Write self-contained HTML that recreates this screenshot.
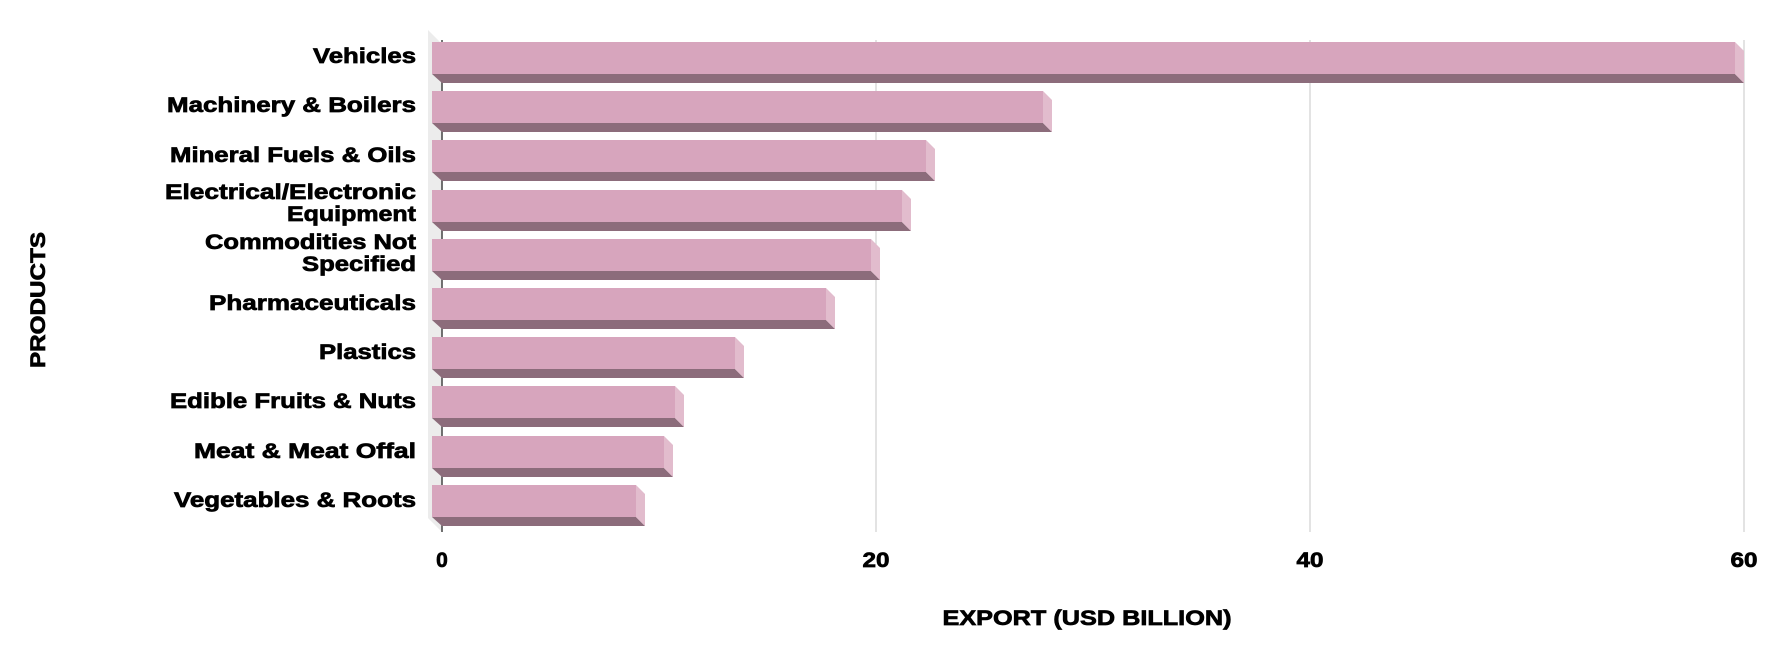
<!DOCTYPE html>
<html><head><meta charset="utf-8"><style>body{margin:0;background:#fff}svg{display:block}text{font-family:"Liberation Sans",Arial,sans-serif;font-weight:bold;fill:#000;stroke:#000;stroke-width:0.7}</style></head>
<body>
<svg width="1775" height="650" xmlns="http://www.w3.org/2000/svg">
<polygon points="428,30 442,44 442,532 428,518" fill="#ececec"/>
<line x1="442" y1="40" x2="442" y2="532" stroke="#444" stroke-width="1.5"/>
<line x1="876" y1="40" x2="876" y2="532" stroke="#d0d0d0" stroke-width="1.2"/>
<line x1="1310" y1="40" x2="1310" y2="532" stroke="#d0d0d0" stroke-width="1.2"/>
<line x1="1744" y1="40" x2="1744" y2="532" stroke="#d0d0d0" stroke-width="1.2"/>

<g transform="translate(0,42)"><rect x="432" y="0" width="1303" height="32" fill="#d7a5bd"/><polygon points="432,32 1735,32 1744,41 442,41" fill="#8c6c7b"/><polygon points="1735,0 1744,9 1744,41 1735,32" fill="#e2bccd"/></g>
<g transform="translate(0,91)"><rect x="432" y="0" width="611" height="32" fill="#d7a5bd"/><polygon points="432,32 1043,32 1052,41 442,41" fill="#8c6c7b"/><polygon points="1043,0 1052,9 1052,41 1043,32" fill="#e2bccd"/></g>
<g transform="translate(0,140)"><rect x="432" y="0" width="494" height="32" fill="#d7a5bd"/><polygon points="432,32 926,32 935,41 442,41" fill="#8c6c7b"/><polygon points="926,0 935,9 935,41 926,32" fill="#e2bccd"/></g>
<g transform="translate(0,190)"><rect x="432" y="0" width="470" height="32" fill="#d7a5bd"/><polygon points="432,32 902,32 911,41 442,41" fill="#8c6c7b"/><polygon points="902,0 911,9 911,41 902,32" fill="#e2bccd"/></g>
<g transform="translate(0,239)"><rect x="432" y="0" width="439" height="32" fill="#d7a5bd"/><polygon points="432,32 871,32 880,41 442,41" fill="#8c6c7b"/><polygon points="871,0 880,9 880,41 871,32" fill="#e2bccd"/></g>
<g transform="translate(0,288)"><rect x="432" y="0" width="394" height="32" fill="#d7a5bd"/><polygon points="432,32 826,32 835,41 442,41" fill="#8c6c7b"/><polygon points="826,0 835,9 835,41 826,32" fill="#e2bccd"/></g>
<g transform="translate(0,337)"><rect x="432" y="0" width="303" height="32" fill="#d7a5bd"/><polygon points="432,32 735,32 744,41 442,41" fill="#8c6c7b"/><polygon points="735,0 744,9 744,41 735,32" fill="#e2bccd"/></g>
<g transform="translate(0,386)"><rect x="432" y="0" width="243" height="32" fill="#d7a5bd"/><polygon points="432,32 675,32 684,41 442,41" fill="#8c6c7b"/><polygon points="675,0 684,9 684,41 675,32" fill="#e2bccd"/></g>
<g transform="translate(0,436)"><rect x="432" y="0" width="232" height="32" fill="#d7a5bd"/><polygon points="432,32 664,32 673,41 442,41" fill="#8c6c7b"/><polygon points="664,0 673,9 673,41 664,32" fill="#e2bccd"/></g>
<g transform="translate(0,485)"><rect x="432" y="0" width="204" height="32" fill="#d7a5bd"/><polygon points="432,32 636,32 645,41 442,41" fill="#8c6c7b"/><polygon points="636,0 645,9 645,41 636,32" fill="#e2bccd"/></g>

<g font-size="21" text-anchor="end">
<text x="416" y="63" textLength="103" lengthAdjust="spacingAndGlyphs">Vehicles</text>
<text x="416" y="112" textLength="249" lengthAdjust="spacingAndGlyphs">Machinery &amp; Boilers</text>
<text x="416" y="162" textLength="246" lengthAdjust="spacingAndGlyphs">Mineral Fuels &amp; Oils</text>
<text x="416" y="199" textLength="251" lengthAdjust="spacingAndGlyphs">Electrical/Electronic</text>
<text x="416" y="221" textLength="129" lengthAdjust="spacingAndGlyphs">Equipment</text>
<text x="416" y="249" textLength="211" lengthAdjust="spacingAndGlyphs">Commodities Not</text>
<text x="416" y="271" textLength="114" lengthAdjust="spacingAndGlyphs">Specified</text>
<text x="416" y="310" textLength="207" lengthAdjust="spacingAndGlyphs">Pharmaceuticals</text>
<text x="416" y="359" textLength="97" lengthAdjust="spacingAndGlyphs">Plastics</text>
<text x="416" y="408" textLength="246" lengthAdjust="spacingAndGlyphs">Edible Fruits &amp; Nuts</text>
<text x="416" y="458" textLength="222" lengthAdjust="spacingAndGlyphs">Meat &amp; Meat Offal</text>
<text x="416" y="507" textLength="242" lengthAdjust="spacingAndGlyphs">Vegetables &amp; Roots</text>
</g>
<g font-size="21" text-anchor="middle">
<text x="442" y="567">0</text>
<text x="876" y="567" textLength="27" lengthAdjust="spacingAndGlyphs">20</text>
<text x="1310" y="567" textLength="27" lengthAdjust="spacingAndGlyphs">40</text>
<text x="1744" y="567" textLength="27" lengthAdjust="spacingAndGlyphs">60</text>
<text x="1087" y="625" textLength="289" lengthAdjust="spacingAndGlyphs">EXPORT (USD BILLION)</text>
<text transform="translate(45,300) rotate(-90)" textLength="136" lengthAdjust="spacingAndGlyphs">PRODUCTS</text>
</g>
</svg>
</body></html>
